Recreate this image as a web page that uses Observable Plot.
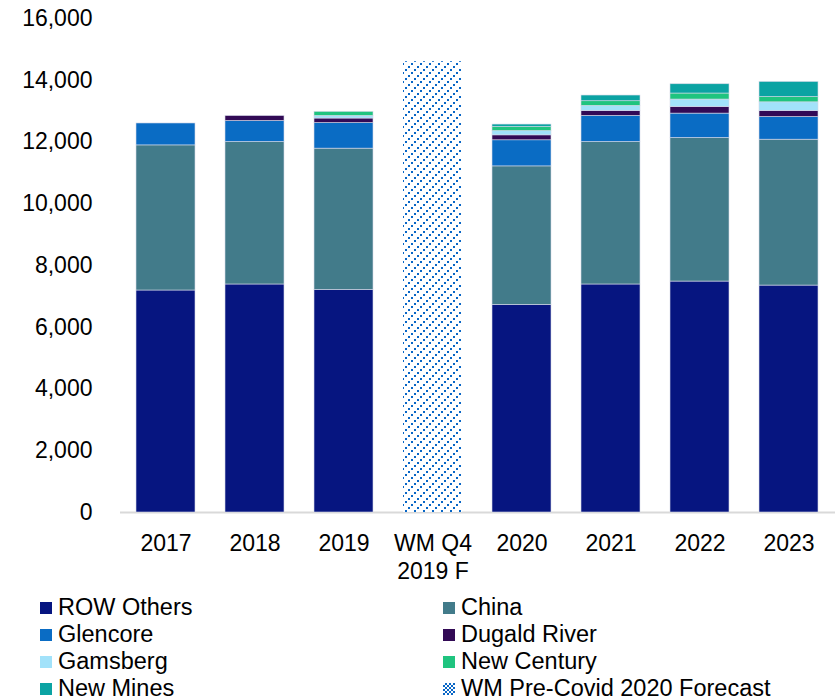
<!DOCTYPE html>
<html>
<head>
<meta charset="utf-8">
<script src="https://cdn.jsdelivr.net/npm/d3@7"></script>
<script src="https://cdn.jsdelivr.net/npm/@observablehq/plot@0.6"></script>
<style>
  body { margin: 0; background: #fff; font-family: "Liberation Sans", Arial, sans-serif; }
  #legend { position: relative; height: 108px; font-size: 23.5px; color: #000; }
  .li { position: absolute; display: flex; align-items: center; height: 27px; white-space: nowrap; }
  .sw { width: 12px; height: 12px; margin-right: 6px; flex: none; }
</style>
</head>
<body>
<div id="chart"></div>
<div id="legend"></div>
<script>
// Categories (x axis tick labels)
const categories = ["2017", "2018", "2019", "WM Q4\n2019 F", "2020", "2021", "2022", "2023"];
const actualYears = ["2017", "2018", "2019", "2020", "2021", "2022", "2023"];
const forecastCategory = "WM Q4\n2019 F";

// Series (stack order bottom → top)
const seriesNames = ["ROW Others", "China", "Glencore", "Dugald River", "Gamsberg", "New Century", "New Mines"];
const seriesColors = ["#061580", "#427b8a", "#0a6cc4", "#320a55", "#a2e2fa", "#1fc47f", "#0ba3a3"];

// Values per series, aligned with actualYears
const rowOthers   = [7190, 7385, 7210, 6725, 7385, 7480, 7350];
const china       = [4700, 4615, 4575, 4485, 4615, 4650, 4725];
const glencore    = [710, 680, 830, 845, 845, 790, 735];
const dugaldRiver = [0, 160, 145, 160, 160, 215, 195];
const gamsberg    = [0, 0, 85, 140, 165, 240, 280];
const newCentury  = [0, 0, 130, 130, 150, 195, 170];
const newMines    = [0, 0, 0, 80, 185, 300, 490];

// WM Pre-Covid 2020 forecast
const forecastValue = [14600];
const forecastLabel = "WM Pre-Covid 2020 Forecast";

const yTicks = [0, 2000, 4000, 6000, 8000, 10000, 12000, 14000, 16000];

const seriesValues = [rowOthers, china, glencore, dugaldRiver, gamsberg, newCentury, newMines];
const rows = [];
actualYears.forEach((yr, i) => {
  seriesNames.forEach((s, j) => rows.push({year: yr, series: s, value: seriesValues[j][i]}));
});
const forecastRows = forecastValue.map(v => ({year: forecastCategory, value: v}));

const fontFam = "'Liberation Sans', Arial, sans-serif";

const plot = Plot.plot({
  width: 836,
  height: 592,
  marginLeft: 120,
  marginRight: 1,
  marginTop: 18,
  marginBottom: 80,
  style: {fontFamily: fontFam, fontSize: "23px", color: "#000", background: "#fff"},
  x: {type: "band", domain: categories, paddingInner: 0.337, paddingOuter: 0.16, label: null},
  y: {domain: [0, 16000], label: null},
  color: {domain: seriesNames, range: seriesColors},
  marks: [
    Plot.ruleY([0], {stroke: "#d9d9d9", strokeWidth: 2}),
    Plot.barY(rows, {x: "year", y: "value", fill: "series", stroke: "#d6d9e8", strokeWidth: 0.6}),
    Plot.barY(forecastRows, {x: "year", y: "value", fill: "url(#wmHatch)"}),
    Plot.axisY({ticks: yTicks, tickFormat: d3.format(","), tickSize: 0, tickPadding: 28, fontSize: 23}),
    Plot.axisX({tickSize: 0, tickPadding: 19, fontSize: 23, lineHeight: 1.22})
  ]
});

// Hatch pattern definition
const svgSel = d3.select(plot);
const defs = svgSel.insert("defs", ":first-child");
function addPattern(defsSel, id) {
  const p = defsSel.append("pattern").attr("id", id).attr("patternUnits", "userSpaceOnUse")
    .attr("width", 9).attr("height", 9);
  p.append("rect").attr("width", 9).attr("height", 9).attr("fill", "#fff");
  [[0, 6], [3, 3], [6, 0]].forEach(([x, y]) =>
    p.append("rect").attr("x", x).attr("y", y).attr("width", 2).attr("height", 2)
      .attr("fill", "#0866c6").attr("shape-rendering", "crispEdges"));
}
addPattern(defs, "wmHatch");
document.getElementById("chart").appendChild(plot);

// Legend
const legendItems = seriesNames.map((s, i) => ({label: s, color: seriesColors[i]}));
legendItems.push({label: forecastLabel, pattern: true});
const legend = document.getElementById("legend");
const colX = [40, 443];
legendItems.forEach((it, i) => {
  const col = i % 2, row = Math.floor(i / 2);
  const div = document.createElement("div");
  div.className = "li";
  div.style.left = colX[col] + "px";
  div.style.top = (row * 27 + 2) + "px";
  let sw;
  if (it.pattern) {
    sw = document.createElementNS("http://www.w3.org/2000/svg", "svg");
    sw.setAttribute("width", 12); sw.setAttribute("height", 12);
    sw.setAttribute("class", "sw");
    const d = d3.select(sw).append("defs");
    const p = d.append("pattern").attr("id", "wmHatchLeg").attr("patternUnits", "userSpaceOnUse")
      .attr("width", 4).attr("height", 4);
    p.append("rect").attr("width", 4).attr("height", 4).attr("fill", "#fff");
    p.append("rect").attr("x", 0).attr("y", 2).attr("width", 2).attr("height", 2).attr("fill", "#0866c6");
    p.append("rect").attr("x", 2).attr("y", 0).attr("width", 2).attr("height", 2).attr("fill", "#0866c6");
    d3.select(sw).append("rect").attr("width", 12).attr("height", 12).attr("fill", "url(#wmHatchLeg)");
  } else {
    sw = document.createElement("div");
    sw.className = "sw";
    sw.style.background = it.color;
  }
  div.appendChild(sw);
  const t = document.createElement("span");
  t.textContent = it.label;
  div.appendChild(t);
  legend.appendChild(div);
});
</script>
</body>
</html>
